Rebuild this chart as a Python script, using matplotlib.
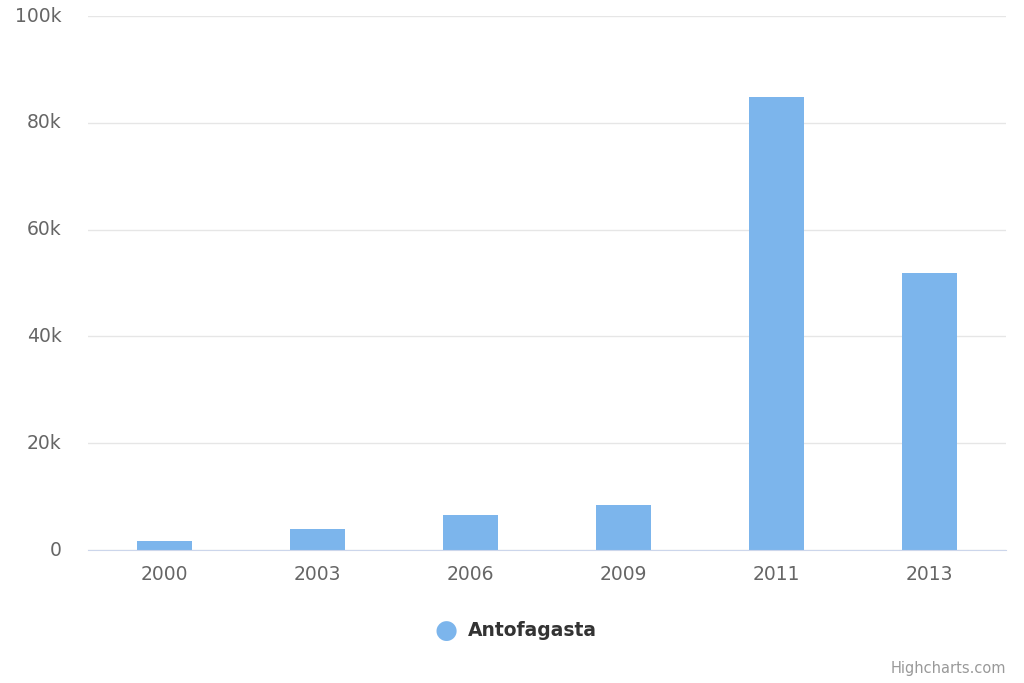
import matplotlib
matplotlib.use("Agg")
import matplotlib.pyplot as plt
from matplotlib.ticker import FuncFormatter
from matplotlib.transforms import ScaledTranslation

years = ["2000", "2003", "2006", "2009", "2011", "2013"]
values = [1750, 3900, 6500, 8400, 84800, 51800]
series_name = "Antofagasta"

fig = plt.figure(figsize = (10.24, 6.83), dpi = 100)
ax = fig.add_axes([88 / 1024, 1 - 550 / 683, 918 / 1024, 534 / 683])

x = range(len(years))
ax.bar(x, values, width = 0.36, color = "#7cb5ec", zorder = 3)

ax.set_xlim(-0.5, len(years) - 0.5)
ax.set_ylim(0, 100000)
ax.set_yticks(range(0, 100001, 20000))
ax.yaxis.set_major_formatter(FuncFormatter(lambda v, p: "0" if v == 0 else "{:d}k".format(int(v / 1000))))
ax.set_xticks(list(x))
ax.set_xticklabels(years)

ax.grid(axis = "y", color = "#e6e6e6", linewidth = 1, zorder = 0)
for s in ["top", "right", "left"]:
  ax.spines[s].set_visible(False)
ax.spines["bottom"].set_color("#ccd6eb")
ax.spines["bottom"].set_zorder(4)

ax.tick_params(axis = "y", length = 0, pad = 19, labelsize = 13.5, labelcolor = "#666666")
ax.tick_params(axis = "x", length = 0, pad = 11, labelsize = 13.5, labelcolor = "#666666")
for lbl in ax.get_yticklabels():
  lbl.set_transform(lbl.get_transform() + ScaledTranslation(0, 2 / 100, fig.dpi_scale_trans))

fig.text(446 / 1024, 1 - 631 / 683, "\u25cf", color = "#7cb5ec", fontsize = 19, ha = "center", va = "center")
fig.text(468 / 1024, 1 - 631 / 683, series_name, color = "#333333", fontsize = 13.5, fontweight = "bold", ha = "left", va = "center")
fig.text(1006 / 1024, 1 - 669 / 683, "Highcharts.com", color = "#999999", fontsize = 10.5, ha = "right", va = "center")

fig.savefig("out.png", dpi = 100)
